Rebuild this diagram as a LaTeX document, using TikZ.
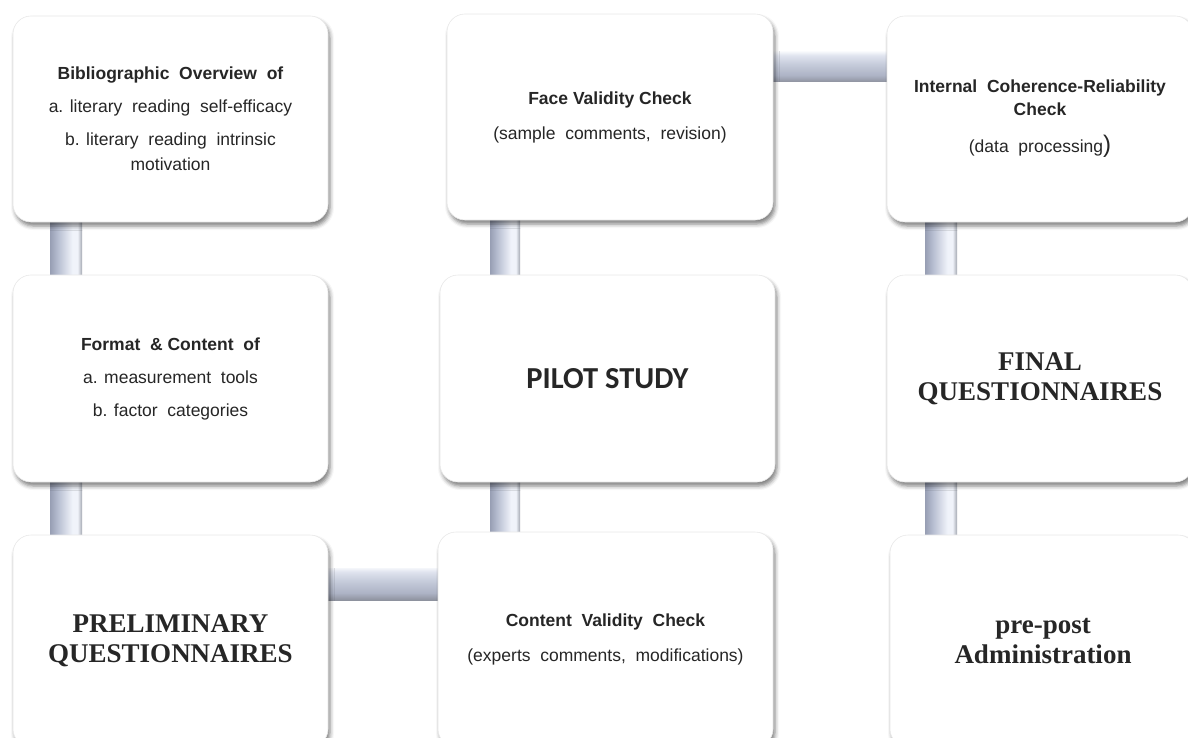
\documentclass[tikz,border=0pt]{standalone}
\usepackage{fontspec}
\setmainfont{Liberation Sans}
\newfontfamily\serifbold{Liberation Serif}
\newfontfamily\carlito{Carlito}
\usetikzlibrary{shadows.blur}
\definecolor{txt}{HTML}{262626}
\definecolor{pa}{HTML}{979EB3}
\definecolor{pb}{HTML}{B6BDD0}
\definecolor{pc}{HTML}{F0F3FA}
\definecolor{pd}{HTML}{A4A8B2}
\definecolor{ha}{HTML}{8E929E}
\definecolor{hb}{HTML}{ADB3C5}
\definecolor{hc}{HTML}{C6CCDB}
\definecolor{hd}{HTML}{DFE3EE}
\definecolor{he}{HTML}{F4F6FA}
\pgfdeclarehorizontalshading{pipev}{100bp}{color(0bp)=(pa); color(25bp)=(pa); color(37bp)=(pb); color(60bp)=(pc); color(68bp)=(pc); color(75bp)=(pd); color(100bp)=(pd)}
\pgfdeclareverticalshading{pipeh}{100bp}{color(0bp)=(ha); color(25bp)=(ha); color(36bp)=(hb); color(55bp)=(hc); color(69bp)=(hd); color(75bp)=(he); color(100bp)=(he)}
\pgfdeclarelayer{bg}
\pgfsetlayers{bg,main}
\tikzset{
  box/.style={draw=gray!18, line width=0.6pt, fill=white, rounded corners=18pt,
    anchor=north west, inner sep=0pt, outer sep=0pt, align=center, text=txt,
    blur shadow={shadow xshift=2pt, shadow yshift=-4pt, shadow opacity=50, shadow blur radius=4pt}},
  small/.style={font=\fontsize{17.5}{25}\selectfont},
  bigserif/.style={font=\serifbold\bfseries\fontsize{27}{30}\selectfont},
  vpipe/.style={shading=pipev},
  hpipe/.style={shading=pipeh}
}
\begin{document}
\begin{tikzpicture}[x=1pt,y=-1pt]
\useasboundingbox (0,0) rectangle (1188,738);
\clip (0,0) rectangle (1188,738);
% row 1
\node[box, small, minimum width=315, minimum height=206] (b11) at (13,16)
  {\textbf{Bibliographic\ \ Overview\ \ of}\\[8pt]
   a. literary\ \ reading\ \ self-efficacy\\[8pt]
   b. literary\ \ reading\ \ intrinsic\\ motivation};
\node[box, small, minimum width=326, minimum height=206] (b12) at (447,14)
  {\textbf{Face Validity Check}\\[10pt]
   (sample\ \ comments,\ \ revision)};
\node[box, small, minimum width=306, minimum height=206] (b13) at (887,16)
  {\textbf{Internal\ \ Coherence-Reliability}\\[-2pt]
   \textbf{Check}\\[12pt]
   (data\ \ processing{\fontsize{24}{24}\selectfont)}};
% row 2
\node[box, small, minimum width=315, minimum height=207] (b21) at (13,275)
  {\textbf{Format\ \ \&\ Content\ \ of}\\[8pt]
   a. measurement\ \ tools\\[8pt]
   b. factor\ \ categories};
\node[box, minimum width=335, minimum height=207, font=\carlito\bfseries\fontsize{30.5}{30}\selectfont] (b22) at (440,275)
  {PILOT STUDY};
\node[box, bigserif, minimum width=306, minimum height=207] (b23) at (887,275)
  {FINAL\\ QUESTIONNAIRES};
% row 3
\node[box, bigserif, minimum width=315, minimum height=212] (b31) at (13,535)
  {PRELIMINARY\\ QUESTIONNAIRES};
\node[box, small, minimum width=335, minimum height=215] (b32) at (438,532)
  {\textbf{Content\ \ Validity\ \ Check}\\[10pt]
   (experts\ \ comments,\ \ modifications)};
\node[box, bigserif, minimum width=306, minimum height=212] (b33) at (890,535)
  {pre-post\\ Administration};
% pipes
\begin{pgfonlayer}{bg}
\shade[vpipe] ([xshift=37pt]b11.south west) rectangle ([xshift=69pt]b21.north west);
\shade[vpipe] ([xshift=37pt]b21.south west) rectangle ([xshift=69pt]b31.north west);
\shade[vpipe] ([xshift=43pt]b12.south west) rectangle ([xshift=80pt]b22.north west);
\shade[vpipe] ([xshift=50pt]b22.south west) rectangle ([xshift=82pt]b32.north west);
\shade[vpipe] ([xshift=38pt]b13.south west) rectangle ([xshift=70pt]b23.north west);
\shade[vpipe] ([xshift=38pt]b23.south west) rectangle ([xshift=67pt]b33.north west);
\shade[hpipe] ([yshift=-38pt]b12.north east) rectangle ([yshift=-66pt]b13.north west);
\shade[hpipe] ([yshift=-33pt]b31.north east) rectangle ([yshift=-68pt]b32.north west);
\end{pgfonlayer}
\end{tikzpicture}
\end{document}
